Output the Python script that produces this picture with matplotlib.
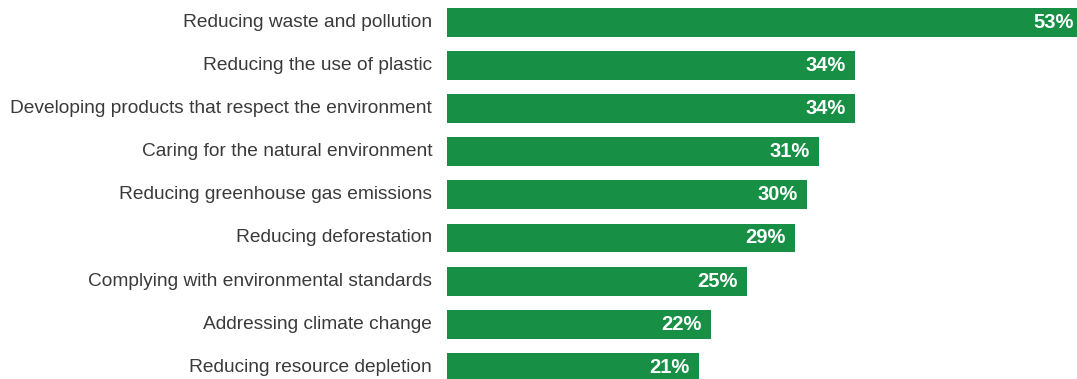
import matplotlib
matplotlib.use("Agg")
import matplotlib.pyplot as plt
from matplotlib.transforms import offset_copy

categories = [
    "Reducing waste and pollution",
    "Reducing the use of plastic",
    "Developing products that respect the environment",
    "Caring for the natural environment",
    "Reducing greenhouse gas emissions",
    "Reducing deforestation",
    "Complying with environmental standards",
    "Addressing climate change",
    "Reducing resource depletion",
]
values = [53, 34, 34, 31, 30, 29, 25, 22, 21]
value_labels = ["53%", "34%", "34%", "31%", "30%", "29%", "25%", "22%", "21%"]

plt.rcParams['font.family'] = ['Liberation Sans', 'DejaVu Sans']

fig = plt.figure(figsize=(10.77, 3.79), dpi=100)
ax = fig.add_axes([447/1077, 0, 1 - 447/1077, 1])
ypos = list(range(len(categories)))
ax.barh(ypos, values, height=0.67, color="#178f45", edgecolor="none")
ax.set_xlim(0, 52.5)
ax.set_ylim(8.27, -0.517)
ax.axis("off")

for y, v, lab, cat in zip(ypos, values, value_labels, categories):
    tr = offset_copy(ax.transData, fig=fig, x=-9, y=0, units="dots")
    ax.text(v, y, lab, transform=tr, ha="right", va="center",
            color="white", fontsize=14.5, fontweight="bold", clip_on=False)
    tl = offset_copy(ax.transData, fig=fig, x=-15, y=0, units="dots")
    ax.text(0, y, cat, transform=tl, ha="right", va="center",
            color="#3a3a3a", fontsize=13.8)

fig.savefig("out.png", dpi=100)
